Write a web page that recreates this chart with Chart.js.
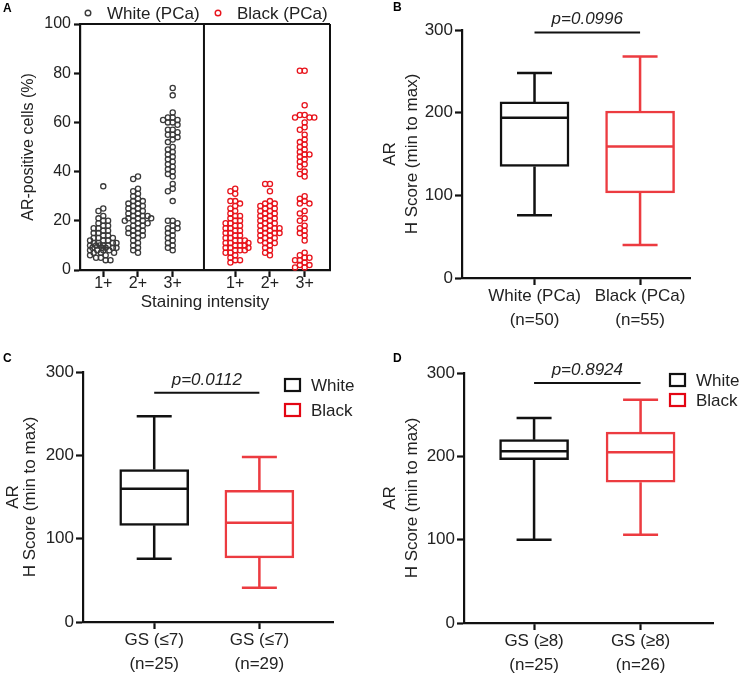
<!DOCTYPE html>
<html>
<head>
<meta charset="utf-8">
<script src="https://cdn.jsdelivr.net/npm/chart.js@4.4.1/dist/chart.umd.min.js"></script>
<style>
	body { margin: 0; background: #fff; }
	#wrap { position: relative; width: 741px; height: 673px; overflow: hidden; }
	#wrap canvas { position: absolute; }
</style>
</head>
<body>
<div id="wrap">
	<canvas id="chartA" width="370" height="325" style="left:0;top:0"></canvas>
	<canvas id="chartB" width="371" height="330" style="left:370px;top:0"></canvas>
	<canvas id="chartC" width="370" height="343" style="left:0;top:330px"></canvas>
	<canvas id="chartD" width="371" height="343" style="left:370px;top:330px"></canvas>
</div>
<script>
// ---- data ----
const intensityLabels = ['1+', '2+', '3+'];
const groupNames = ['White (PCa)', 'Black (PCa)'];
const legendNames = ['White', 'Black'];

// panel A: AR-positive cells (%) per staining intensity
const white1 = [34, 25, 24, 22, 21, 20, 20, 19, 18, 18, 17, 17, 16, 16, 15, 15, 14, 14, 13, 13, 13, 12, 12, 12, 11, 11, 11, 11, 10, 10, 10, 10, 10, 9, 9, 9, 9, 9, 8, 8, 8, 8, 7, 7, 7, 6, 6, 5, 5, 4, 4];
const white2 = [38, 37, 33, 32, 31, 30, 29, 28, 28, 27, 27, 26, 26, 25, 25, 24, 24, 23, 23, 22, 22, 22, 21, 21, 21, 20, 20, 20, 19, 19, 18, 18, 17, 17, 16, 16, 15, 15, 14, 14, 13, 12, 11, 10, 9, 8, 7];
const white3 = [74, 71, 64, 62, 62, 61, 61, 60, 60, 59, 57, 57, 56, 55, 55, 54, 53, 52, 50, 49, 48, 47, 46, 45, 44, 43, 42, 41, 40, 39, 38, 35, 33, 32, 28, 20, 20, 19, 18, 17, 17, 16, 15, 14, 13, 12, 11, 10, 9, 8];
const black1 = [33, 32, 31, 28, 28, 27, 26, 25, 24, 23, 22, 22, 21, 20, 20, 19, 19, 18, 18, 17, 17, 16, 16, 15, 15, 14, 14, 13, 13, 12, 12, 12, 11, 11, 11, 10, 10, 10, 9, 9, 9, 8, 8, 8, 7, 7, 6, 5, 4, 4, 3];
const black2 = [35, 35, 32, 28, 27, 27, 26, 26, 25, 25, 24, 24, 23, 23, 22, 22, 21, 21, 20, 20, 19, 19, 18, 18, 17, 17, 17, 16, 16, 15, 15, 15, 14, 14, 13, 13, 12, 12, 11, 11, 10, 9, 8, 7, 6];
const black3 = [81, 81, 67, 63, 63, 62, 62, 62, 60, 58, 57, 55, 53, 52, 51, 50, 49, 48, 47, 47, 46, 45, 44, 43, 42, 40, 39, 38, 30, 29, 28, 27, 27, 24, 23, 21, 20, 18, 17, 16, 15, 14, 12, 7, 6, 5, 5, 4, 4, 3, 2, 2, 1, 1];

// panels B-D: H score box plots, [min, q1, median, q3, max]
const allWhite = [76, 135, 194, 213, 248];
const allBlack = [40, 103, 159, 202, 268];
const lowWhite = [76, 116, 160, 183, 247];
const lowBlack = [41, 77, 119, 158, 198];
const highWhite = [100, 196, 206, 220, 246];
const highBlack = [106, 169, 205, 229, 268];

const labelsB = [['White (PCa)', '(n=50)'], ['Black (PCa)', '(n=55)']];
const labelsC = [['GS (\u22647)', '(n=25)'], ['GS (\u22647)', '(n=29)']];
const labelsD = [['GS (\u22658)', '(n=25)'], ['GS (\u22658)', '(n=26)']];
const pTexts = ['p=0.0996', 'p=0.0112', 'p=0.8924'];
const pLevels = [297, 275, 288];

// ---- styling ----
const FONT = "'Liberation Sans', Arial, Helvetica, sans-serif";
const INK = '#111';
const GRAY_PT = '#3a3a3a';
const RED_PT = '#e8141c';
const RED_BOX = '#ec3b40';
const RED_KEY = '#e30613';

Chart.defaults.font.family = FONT;
Chart.defaults.color = '#222';
Chart.defaults.animation = false;
Chart.defaults.plugins.legend.display = false;
Chart.defaults.plugins.tooltip.enabled = false;

const blackShift = 3.8;   // where the black group starts on panel A's x scale
const dividerA = 3.9;

// ---- plugins ----
const tagPlugin = {
	id: 'tag',
	afterDraw(chart, args, opts) {
		const ctx = chart.ctx;
		ctx.save();
		ctx.font = 'bold 12px ' + FONT;
		ctx.fillStyle = '#000';
		ctx.textBaseline = 'middle';
		ctx.fillText(opts.text, opts.x, opts.y);
		ctx.restore();
	}
};

const frameA = {
	id: 'frameA',
	afterDatasetsDraw(chart) {
		const { ctx, chartArea: a } = chart;
		const xd = chart.scales.x.getPixelForValue(dividerA);
		ctx.save();
		ctx.strokeStyle = INK;
		ctx.lineWidth = 2;
		ctx.beginPath();
		ctx.moveTo(a.left, a.top); ctx.lineTo(a.right, a.top);
		ctx.moveTo(a.right, a.top); ctx.lineTo(a.right, a.bottom);
		ctx.moveTo(xd, a.top); ctx.lineTo(xd, a.bottom);
		ctx.stroke();
		ctx.restore();
	}
};

const legendA = {
	id: 'legendA',
	afterDraw(chart, args, opts) {
		const ctx = chart.ctx;
		ctx.save();
		ctx.font = '17px ' + FONT;
		ctx.textBaseline = 'middle';
		chart.data.datasets.forEach((ds, i) => {
			const x = opts.xs[i];
			ctx.strokeStyle = ds.borderColor;
			ctx.lineWidth = 1.4;
			ctx.beginPath();
			ctx.arc(x, opts.y, 2.8, 0, Math.PI * 2);
			ctx.stroke();
			ctx.fillStyle = '#222';
			ctx.fillText(ds.label, x + 19, opts.y + 1);
		});
		ctx.restore();
	}
};

const boxParts = {
	id: 'boxParts',
	afterDatasetsDraw(chart, args, opts) {
		const ctx = chart.ctx;
		const y = chart.scales.y;
		chart.data.datasets.forEach((ds, i) => {
			const bar = chart.getDatasetMeta(i).data[0];
			const [mn, q1, md, q3, mx] = ds.stats;
			const half = bar.width / 2 - 1;
			const cap = opts.cap / 2;
			ctx.save();
			ctx.strokeStyle = ds.borderColor;
			ctx.lineWidth = ds.borderWidth;
			ctx.beginPath();
			ctx.moveTo(bar.x - half, y.getPixelForValue(md));
			ctx.lineTo(bar.x + half, y.getPixelForValue(md));
			ctx.moveTo(bar.x, y.getPixelForValue(q3));
			ctx.lineTo(bar.x, y.getPixelForValue(mx));
			ctx.moveTo(bar.x - cap, y.getPixelForValue(mx));
			ctx.lineTo(bar.x + cap, y.getPixelForValue(mx));
			ctx.moveTo(bar.x, y.getPixelForValue(q1));
			ctx.lineTo(bar.x, y.getPixelForValue(mn));
			ctx.moveTo(bar.x - cap, y.getPixelForValue(mn));
			ctx.lineTo(bar.x + cap, y.getPixelForValue(mn));
			ctx.stroke();
			ctx.restore();
		});
	}
};

const pBar = {
	id: 'pBar',
	afterDraw(chart, args, opts) {
		const { ctx, scales } = chart;
		const x1 = scales.x.getPixelForValue(1);
		const x2 = scales.x.getPixelForValue(2);
		const yy = scales.y.getPixelForValue(opts.level);
		ctx.save();
		ctx.strokeStyle = INK;
		ctx.lineWidth = 2;
		ctx.beginPath();
		ctx.moveTo(x1, yy); ctx.lineTo(x2, yy);
		ctx.stroke();
		ctx.font = 'italic 17px ' + FONT;
		ctx.fillStyle = '#222';
		ctx.textAlign = 'center';
		ctx.textBaseline = 'middle';
		ctx.fillText(opts.text, (x1 + x2) / 2, yy - 13);
		ctx.restore();
	}
};

const boxLegend = {
	id: 'boxLegend',
	afterDraw(chart, args, opts) {
		if (!opts.show) return;
		const ctx = chart.ctx;
		ctx.save();
		ctx.font = '17px ' + FONT;
		ctx.textBaseline = 'middle';
		legendNames.forEach((name, i) => {
			const cy = opts.y + i * opts.gap;
			ctx.strokeStyle = i ? RED_KEY : INK;
			ctx.lineWidth = 2.2;
			ctx.strokeRect(opts.x, cy - 6, 15, 12);
			ctx.fillStyle = '#222';
			ctx.fillText(name, opts.x + 26, cy + 1);
		});
		ctx.restore();
	}
};

function axisGrid(len) {
	return { display: true, drawOnChartArea: false, offset: false, tickLength: len, tickWidth: 2.2, tickColor: INK };
}
const axisBorder = { display: true, width: 2.2, color: INK };

// ---- panel A: scatter ----
const tickPosA = intensityLabels.map((_, i) => i + 1).concat(intensityLabels.map((_, i) => i + 1 + blackShift));

const chartA = new Chart(document.getElementById('chartA'), {
	type: 'scatter',
	data: {
		datasets: [
			{ label: groupNames[0], data: [], borderColor: GRAY_PT, backgroundColor: 'rgba(0,0,0,0)', pointRadius: 2.6, borderWidth: 1.3, clip: false },
			{ label: groupNames[1], data: [], borderColor: RED_PT, backgroundColor: 'rgba(0,0,0,0)', pointRadius: 2.6, borderWidth: 1.3, clip: false }
		]
	},
	options: {
		responsive: false,
		layout: { padding: { top: 24, right: 40, left: 0, bottom: 0 } },
		scales: {
			x: {
				type: 'linear', min: 0.33, max: 7.53,
				afterBuildTicks: s => { s.ticks = tickPosA.map(v => ({ value: v })); },
				afterFit: s => { s.height = 55; },
				ticks: { callback: (v, i) => intensityLabels[i % 3], font: { size: 16 }, padding: -3, maxRotation: 0, autoSkip: false },
				grid: axisGrid(7),
				border: axisBorder,
				title: { display: true, text: 'Staining intensity', font: { size: 17 }, padding: { top: 0, bottom: 12 } }
			},
			y: {
				min: 0, max: 100,
				ticks: { stepSize: 20, font: { size: 16 }, padding: 3 },
				afterFit: s => { s.width = 80; },
				grid: axisGrid(6),
				border: axisBorder,
				title: { display: true, text: 'AR-positive cells (%)', font: { size: 16 }, padding: { top: 19, bottom: 0 } }
			}
		},
		plugins: {
			legendA: { xs: [88, 218], y: 13 },
			tag: { text: 'A', x: 3, y: 9 }
		}
	},
	plugins: [frameA, legendA, tagPlugin]
});

// spread the dots sideways (beeswarm) so they do not all sit on the centre line;
// the spread is kept within +-13 px like the original, overlapping when it is crowded
function swarm(values, center, xs, ys) {
	const cx = xs.getPixelForValue(center);
	const placed = [];
	return values.map(v => {
		const py = ys.getPixelForValue(v);
		let off = null, bestOff = 0, bestGap = -1;
		for (let k = 0; k < 23; k++) {
			const cand = (k % 2 === 0 ? 1 : -1) * Math.ceil(k / 2) * 1.2;
			const gap = placed.reduce((m, p) => Math.min(m, Math.hypot(p.x - (cx + cand), p.y - py)), Infinity);
			if (gap >= 4.6) { off = cand; break; }
			if (gap > bestGap) { bestGap = gap; bestOff = cand; }
		}
		if (off === null) off = bestOff;
		placed.push({ x: cx + off, y: py });
		return { x: xs.getValueForPixel(cx + off), y: v };
	});
}

const xsA = chartA.scales.x, ysA = chartA.scales.y;
chartA.data.datasets[0].data = [white1, white2, white3].flatMap((vals, i) => swarm(vals, i + 1, xsA, ysA));
chartA.data.datasets[1].data = [black1, black2, black3].flatMap((vals, i) => swarm(vals, i + 1 + blackShift, xsA, ysA));
chartA.update('none');

// ---- panels B-D: box plots ----
function boxChart(id, statsList, catLabels, cfg) {
	return new Chart(document.getElementById(id), {
		type: 'bar',
		data: {
			datasets: statsList.map((s, i) => ({
				label: legendNames[i],
				data: [{ x: i + 1, y: [s[1], s[3]] }],
				stats: s,
				borderColor: i ? RED_BOX : INK,
				backgroundColor: '#fff',
				borderWidth: 2.5,
				borderSkipped: false,
				barThickness: 69,
				grouped: false
			}))
		},
		options: {
			responsive: false,
			layout: { padding: { top: cfg.top, right: cfg.right, left: 0, bottom: 0 } },
			scales: {
				x: {
					type: 'linear', min: cfg.xMin, max: cfg.xMax, offset: false,
					afterBuildTicks: s => { s.ticks = catLabels.map((_, i) => ({ value: i + 1 })); },
					afterFit: s => { s.height = cfg.xh; },
					ticks: { callback: (v, i) => catLabels[i], font: { size: 17, lineHeight: 1.38 }, padding: 0, maxRotation: 0, autoSkip: false },
					grid: axisGrid(7),
					border: axisBorder
				},
				y: {
					min: 0, max: 300,
					ticks: { stepSize: 100, font: { size: 17 }, padding: 2 },
					afterFit: s => { s.width = cfg.yw; },
					grid: axisGrid(7),
					border: axisBorder,
					title: { display: true, text: ['AR', 'H Score (min to max)'], font: { size: 17, lineHeight: cfg.tlh }, padding: { top: cfg.tpad, bottom: 0 } }
				}
			},
			plugins: {
				boxParts: { cap: 35 },
				pBar: { level: cfg.pLevel, text: cfg.pText },
				boxLegend: cfg.legend || { show: false },
				tag: cfg.tag
			}
		},
		plugins: [boxParts, pBar, boxLegend, tagPlugin]
	});
}

boxChart('chartB', [allWhite, allBlack], labelsB, {
	top: 30, right: 51, xh: 52, yw: 92, xMin: 0.313, xMax: 2.473, tlh: 1.27, tpad: 10,
	pLevel: pLevels[0], pText: pTexts[0], tag: { text: 'B', x: 23, y: 8 }
});
boxChart('chartC', [lowWhite, lowBlack], labelsC, {
	top: 42, right: 37, xh: 51, yw: 83, xMin: 0.323, xMax: 2.70, tlh: 1.05, tpad: 4,
	pLevel: pLevels[1], pText: pTexts[1], tag: { text: 'C', x: 3, y: 29 },
	legend: { show: true, x: 285, y: 55, gap: 25 }
});
boxChart('chartD', [highWhite, highBlack], labelsD, {
	top: 43, right: 28, xh: 50, yw: 94, xMin: 0.342, xMax: 2.68, tlh: 1.25, tpad: 10,
	pLevel: pLevels[2], pText: pTexts[2], tag: { text: 'D', x: 23, y: 29 },
	legend: { show: true, x: 300, y: 50, gap: 20 }
});
</script>
</body>
</html>
